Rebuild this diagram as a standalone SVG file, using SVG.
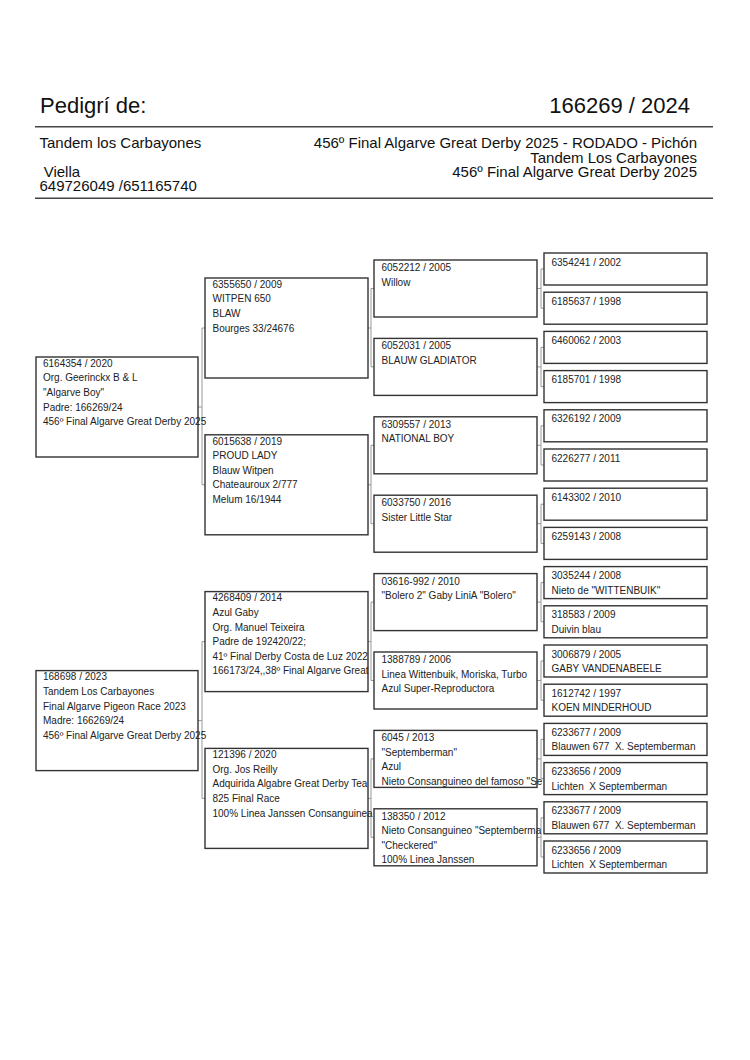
<svg xmlns="http://www.w3.org/2000/svg" width="750" height="1060" viewBox="0 0 750 1060">
<style>
.bg{fill:#fff}
.box{fill:#fff;stroke:#333;stroke-width:1.4}
.t{font-family:"Liberation Sans",Arial,sans-serif;font-size:10px;fill:#222;white-space:pre}
.h{font-family:"Liberation Sans",Arial,sans-serif;fill:#111;white-space:pre}
.big{font-size:22px}
.mid{font-size:15px}
.rule{stroke:#444;stroke-width:1.5}
.conn{fill:none;stroke:#999;stroke-width:1}
</style>
<rect class="bg" x="0" y="0" width="750" height="1060"/>
<g id="header">
<text class="h big" x="40" y="112.7">Pedigrí de:</text>
<text class="h big" x="690" y="112.7" text-anchor="end">166269 / 2024</text>
<line class="rule" x1="35" y1="126.7" x2="713" y2="126.7"/>
<text class="h mid" x="39.5" y="148.3">Tandem los Carbayones</text>
<text class="h mid" x="39.5" y="176.7"> Viella</text>
<text class="h mid" x="39.5" y="191">649726049 /651165740</text>
<text class="h mid" x="697" y="148.3" text-anchor="end">456º Final Algarve Great Derby 2025 - RODADO - Pichón</text>
<text class="h mid" x="697" y="162.5" text-anchor="end">Tandem Los Carbayones</text>
<text class="h mid" x="697" y="176.7" text-anchor="end">456º Final Algarve Great Derby 2025</text>
<line class="rule" x1="35" y1="198.3" x2="713" y2="198.3"/>
</g>
<g id="connectors">
<path class="conn" d="M198,407H202M202,328V484.8M202,328H205M202,484.8H205"/>
<path class="conn" d="M198,720.6H202M202,641.6V798.4M202,641.6H205M202,798.4H205"/>
<path class="conn" d="M368,328H371M371,288.5V366.9M371,288.5H374M371,366.9H374"/>
<path class="conn" d="M368,484.8H371M371,445.3V523.7M371,445.3H374M371,523.7H374"/>
<path class="conn" d="M368,641.6H371M371,602.1V680.5M371,602.1H374M371,680.5H374"/>
<path class="conn" d="M368,798.4H371M371,758.9V837.3M371,758.9H374M371,837.3H374"/>
<path class="conn" d="M537,288.5H541M541,269V308.2M541,269H544M541,308.2H544"/>
<path class="conn" d="M537,366.9H541M541,347.4V386.6M541,347.4H544M541,386.6H544"/>
<path class="conn" d="M537,445.3H541M541,425.8V465M541,425.8H544M541,465H544"/>
<path class="conn" d="M537,523.7H541M541,504.2V543.4M541,504.2H544M541,543.4H544"/>
<path class="conn" d="M537,602.1H541M541,582.6V621.8M541,582.6H544M541,621.8H544"/>
<path class="conn" d="M537,680.5H541M541,661V700.2M541,661H544M541,700.2H544"/>
<path class="conn" d="M537,758.9H541M541,739.4V778.6M541,739.4H544M541,778.6H544"/>
<path class="conn" d="M537,837.3H541M541,817.8V857M541,817.8H544M541,857H544"/>
</g>
<g id="sire">
<rect class="box" x="36" y="357" width="162" height="100"/>
<text class="t" x="43" y="366.7">6164354 / 2020<tspan x="43" dy="14.6">Org. Geerinckx B &amp; L</tspan><tspan x="43" dy="14.6">"Algarve Boy"</tspan><tspan x="43" dy="14.6">Padre: 166269/24</tspan><tspan x="43" dy="14.6">456º Final Algarve Great Derby 2025</tspan></text>
</g>
<g id="dam">
<rect class="box" x="36" y="670.6" width="162" height="100"/>
<text class="t" x="43" y="680.3">168698 / 2023<tspan x="43" dy="14.6">Tandem Los Carbayones</tspan><tspan x="43" dy="14.6">Final Algarve Pigeon Race 2023</tspan><tspan x="43" dy="14.6">Madre: 166269/24</tspan><tspan x="43" dy="14.6">456º Final Algarve Great Derby 2025</tspan></text>
</g>
<g id="ss">
<rect class="box" x="205" y="278" width="163" height="100"/>
<text class="t" x="212.5" y="287.7">6355650 / 2009<tspan x="212.5" dy="14.6">WITPEN 650</tspan><tspan x="212.5" dy="14.6">BLAW</tspan><tspan x="212.5" dy="14.6">Bourges 33/24676</tspan></text>
</g>
<g id="sd">
<rect class="box" x="205" y="434.8" width="163" height="100"/>
<text class="t" x="212.5" y="444.5">6015638 / 2019<tspan x="212.5" dy="14.6">PROUD LADY</tspan><tspan x="212.5" dy="14.6">Blauw Witpen</tspan><tspan x="212.5" dy="14.6">Chateauroux 2/777</tspan><tspan x="212.5" dy="14.6">Melum 16/1944</tspan></text>
</g>
<g id="ds">
<rect class="box" x="205" y="591.6" width="163" height="100"/>
<text class="t" x="212.5" y="601.3">4268409 / 2014<tspan x="212.5" dy="14.6">Azul Gaby</tspan><tspan x="212.5" dy="14.6">Org. Manuel Teixeira</tspan><tspan x="212.5" dy="14.6">Padre de 192420/22;</tspan><tspan x="212.5" dy="14.6">41º Final Derby Costa de Luz 2022</tspan><tspan x="212.5" dy="14.6">166173/24,,38º Final Algarve Great</tspan></text>
</g>
<g id="dd">
<rect class="box" x="205" y="748.4" width="163" height="100"/>
<text class="t" x="212.5" y="758.1">121396 / 2020<tspan x="212.5" dy="14.6">Org. Jos Reilly</tspan><tspan x="212.5" dy="14.6">Adquirida Algabre Great Derby Tea</tspan><tspan x="212.5" dy="14.6">825 Final Race</tspan><tspan x="212.5" dy="14.6">100% Linea Janssen Consanguinea</tspan></text>
</g>
<g id="g3-0"><rect class="box" x="374" y="260" width="163" height="57"/><text class="t" x="381.5" y="271">6052212 / 2005<tspan x="381.5" dy="14.5">Willow</tspan></text></g>
<g id="g3-1"><rect class="box" x="374" y="338.4" width="163" height="57"/><text class="t" x="381.5" y="349.4">6052031 / 2005<tspan x="381.5" dy="14.5">BLAUW GLADIATOR</tspan></text></g>
<g id="g3-2"><rect class="box" x="374" y="416.8" width="163" height="57"/><text class="t" x="381.5" y="427.8">6309557 / 2013<tspan x="381.5" dy="14.5">NATIONAL BOY</tspan></text></g>
<g id="g3-3"><rect class="box" x="374" y="495.2" width="163" height="57"/><text class="t" x="381.5" y="506.2">6033750 / 2016<tspan x="381.5" dy="14.5">Sister Little Star</tspan></text></g>
<g id="g3-4"><rect class="box" x="374" y="573.6" width="163" height="57"/><text class="t" x="381.5" y="584.6">03616-992 / 2010<tspan x="381.5" dy="14.5">"Bolero 2" Gaby LiniA "Bolero"</tspan></text></g>
<g id="g3-5"><rect class="box" x="374" y="652" width="163" height="57"/><text class="t" x="381.5" y="663">1388789 / 2006<tspan x="381.5" dy="14.5">Linea Wittenbuik, Moriska, Turbo</tspan><tspan x="381.5" dy="14.5">Azul Super-Reproductora</tspan></text></g>
<g id="g3-6"><rect class="box" x="374" y="730.4" width="163" height="57"/><text class="t" x="381.5" y="741.4">6045 / 2013<tspan x="381.5" dy="14.5">"Septemberman"</tspan><tspan x="381.5" dy="14.5">Azul</tspan><tspan x="381.5" dy="14.5">Nieto Consanguineo del famoso "Se</tspan></text></g>
<g id="g3-7"><rect class="box" x="374" y="808.8" width="163" height="57"/><text class="t" x="381.5" y="819.8">138350 / 2012<tspan x="381.5" dy="14.5">Nieto Consanguineo "Septemberma</tspan><tspan x="381.5" dy="14.5">"Checkered"</tspan><tspan x="381.5" dy="14.5">100% Linea Janssen</tspan></text></g>
<g id="g4-0"><rect class="box" x="544" y="253" width="163" height="32"/><text class="t" x="551.5" y="265.5">6354241 / 2002</text></g>
<g id="g4-1"><rect class="box" x="544" y="292.2" width="163" height="32"/><text class="t" x="551.5" y="304.7">6185637 / 1998</text></g>
<g id="g4-2"><rect class="box" x="544" y="331.4" width="163" height="32"/><text class="t" x="551.5" y="343.9">6460062 / 2003</text></g>
<g id="g4-3"><rect class="box" x="544" y="370.6" width="163" height="32"/><text class="t" x="551.5" y="383.1">6185701 / 1998</text></g>
<g id="g4-4"><rect class="box" x="544" y="409.8" width="163" height="32"/><text class="t" x="551.5" y="422.3">6326192 / 2009</text></g>
<g id="g4-5"><rect class="box" x="544" y="449" width="163" height="32"/><text class="t" x="551.5" y="461.5">6226277 / 2011</text></g>
<g id="g4-6"><rect class="box" x="544" y="488.2" width="163" height="32"/><text class="t" x="551.5" y="500.7">6143302 / 2010</text></g>
<g id="g4-7"><rect class="box" x="544" y="527.4" width="163" height="32"/><text class="t" x="551.5" y="539.9">6259143 / 2008</text></g>
<g id="g4-8"><rect class="box" x="544" y="566.6" width="163" height="32"/><text class="t" x="551.5" y="579.1">3035244 / 2008<tspan x="551.5" dy="14.5">Nieto de "WITTENBUIK"</tspan></text></g>
<g id="g4-9"><rect class="box" x="544" y="605.8" width="163" height="32"/><text class="t" x="551.5" y="618.3">318583 / 2009<tspan x="551.5" dy="14.5">Duivin blau</tspan></text></g>
<g id="g4-10"><rect class="box" x="544" y="645" width="163" height="32"/><text class="t" x="551.5" y="657.5">3006879 / 2005<tspan x="551.5" dy="14.5">GABY VANDENABEELE</tspan></text></g>
<g id="g4-11"><rect class="box" x="544" y="684.2" width="163" height="32"/><text class="t" x="551.5" y="696.7">1612742 / 1997<tspan x="551.5" dy="14.5">KOEN MINDERHOUD</tspan></text></g>
<g id="g4-12"><rect class="box" x="544" y="723.4" width="163" height="32"/><text class="t" x="551.5" y="735.9">6233677 / 2009<tspan x="551.5" dy="14.5">Blauwen 677  X. Septemberman</tspan></text></g>
<g id="g4-13"><rect class="box" x="544" y="762.6" width="163" height="32"/><text class="t" x="551.5" y="775.1">6233656 / 2009<tspan x="551.5" dy="14.5">Lichten  X Septemberman</tspan></text></g>
<g id="g4-14"><rect class="box" x="544" y="801.8" width="163" height="32"/><text class="t" x="551.5" y="814.3">6233677 / 2009<tspan x="551.5" dy="14.5">Blauwen 677  X. Septemberman</tspan></text></g>
<g id="g4-15"><rect class="box" x="544" y="841" width="163" height="32"/><text class="t" x="551.5" y="853.5">6233656 / 2009<tspan x="551.5" dy="14.5">Lichten  X Septemberman</tspan></text></g>
</svg>
